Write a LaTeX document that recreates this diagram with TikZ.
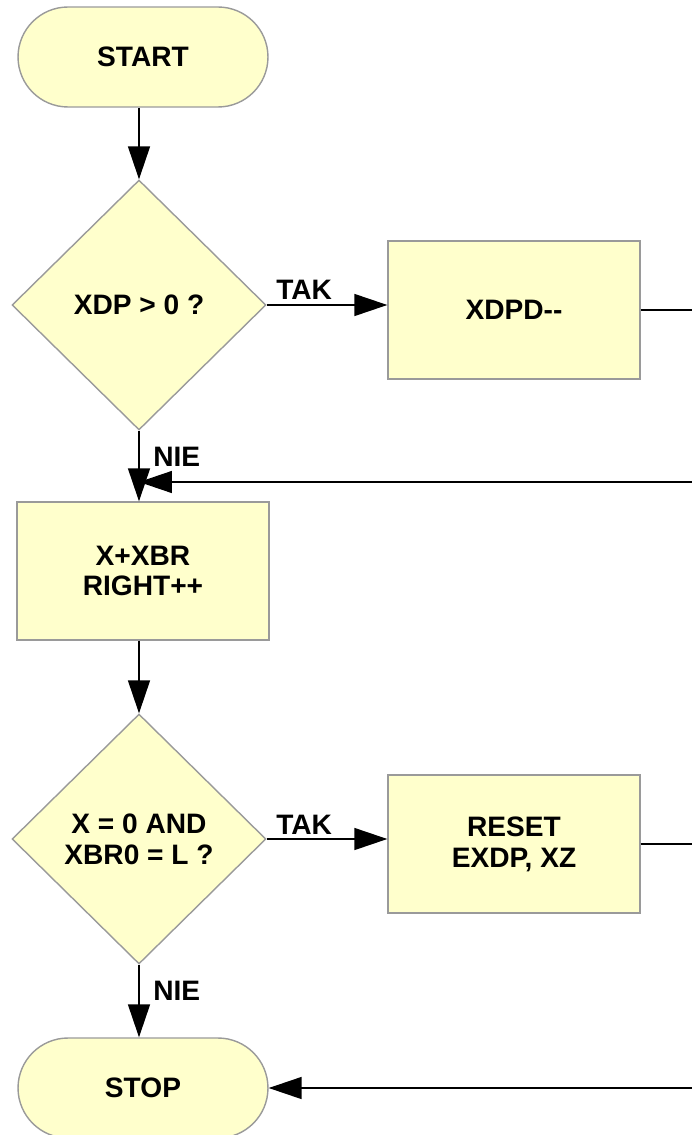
\documentclass[tikz,border=0pt]{standalone}
\usepackage{fontspec}
\setmainfont{Liberation Sans}
\usetikzlibrary{shapes.geometric,shapes.misc,arrows.meta}

\definecolor{boxfill}{HTML}{FFFFCC}
\definecolor{boxline}{HTML}{9A9A9A}

\tikzset{
    chart/.style={fill=boxfill, draw=boxline, line width=0.8pt, align=center,
        inner sep=0pt, font=\fontsize{16}{17.5}\selectfont\bfseries},
    term/.style={chart, rounded rectangle, minimum width=5cm, minimum height=2cm},
    proc/.style={chart, rectangle, minimum width=5.04cm, minimum height=2.76cm},
    cond/.style={chart, diamond, minimum width=5.08cm, minimum height=5cm},
    flow/.style={-{Triangle[length=0.66cm,width=0.44cm]}, line width=0.8pt},
    lbl/.style={inner sep=0pt, anchor=base west, font=\fontsize{16}{17.5}\selectfont\bfseries}
}

\begin{document}
\begin{tikzpicture}[x=0.02cm, y=-0.02cm]
    \useasboundingbox (0,0) rectangle (692,1135);
    \clip (0,0) rectangle (692,1135);

    \node[term] (start) at (143,57) {START};
    \node[cond] (xdp) at (139,305) {XDP > 0 ?};
    \node[proc] (xdpd) at (514,310) {XDPD{-}{-}};
    \node[proc] (right) at (143,571) {X+XBR\\RIGHT++};
    \node[cond] (xz) at (139,839) {X = 0 AND\\XBR0 = L ?};
    \node[proc] (reset) at (514,844) {RESET\\EXDP, XZ};
    \node[term] (stop) at (143,1088) {STOP};

    % loose ends on the right margin
    \coordinate (edge) at (692,0);
    \coordinate (back1) at (692,482);
    \coordinate (back2) at (692,1088);

    \draw[flow] (start.south -| xdp.north) -- (xdp.north);

    \draw[flow] (xdp.east) -- (xdp.east -| xdpd.west);
    \node[lbl] (tak1) at (276,299) {TAK};
    \draw[line width=0.8pt] (xdpd.east) -- (xdpd.east -| edge);

    \draw[flow] (xdp.south) -- (xdp.south |- right.north);
    \node[lbl] (nie1) at (153,466) {NIE};
    \draw[flow] (back1) -- (back1 -| xdp.south);

    \draw[flow] (right.south -| xz.north) -- (xz.north);

    \draw[flow] (xz.east) -- (xz.east -| reset.west);
    \node[lbl] (tak2) at (276,834) {TAK};
    \draw[line width=0.8pt] (reset.east) -- (reset.east -| edge);

    \draw[flow] (xz.south) -- (xz.south |- stop.north);
    \node[lbl] (nie2) at (153,1000) {NIE};
    \draw[flow] (back2) -- (stop.east);
\end{tikzpicture}
\end{document}
